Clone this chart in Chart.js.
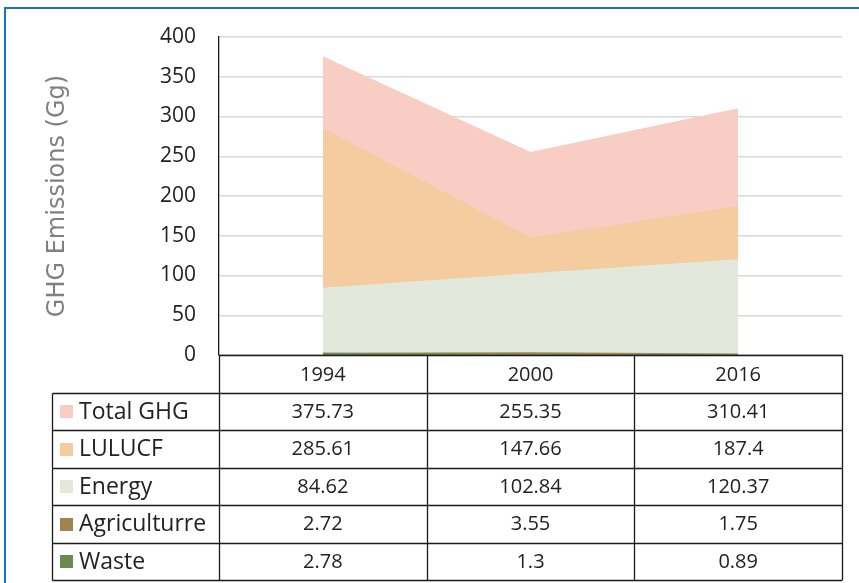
<!DOCTYPE html>
<html>
<head>
<meta charset="utf-8">
<script src="https://cdn.jsdelivr.net/npm/chart.js@4.4.0/dist/chart.umd.min.js"></script>
<style>
  html, body { margin: 0; background: #fff; }
  #wrap { position: relative; width: 859px; height: 583px; }
</style>
</head>
<body>
<div id="wrap"><canvas id="chart-ghg" width="859" height="583"></canvas></div>
<script>
// ── data ──
const years = ['1994', '2000', '2016'];
const seriesNames = ['Total GHG', 'LULUCF', 'Energy', 'Agriculturre', 'Waste'];
const totalGHG = [375.73, 255.35, 310.41];
const lulucf = [285.61, 147.66, 187.4];
const energy = [84.62, 102.84, 120.37];
const agriculture = [2.72, 3.55, 1.75];
const waste = [2.78, 1.3, 0.89];
const yTicks = [0, 50, 100, 150, 200, 250, 300, 350, 400];

const seriesData = [totalGHG, lulucf, energy, agriculture, waste];
const seriesColors = ['#f8cdc3', '#f4cca0', '#e2e9dc', '#a0834f', '#6b8a50'];

const FONT = 'Open Sans';

// data table under the plot, columns follow the x scale
const dataTable = {
  id: 'dataTable',
  afterDraw(chart) {
    const { ctx, chartArea: a, scales: { x } } = chart;
    const half = (x.getPixelForValue(1) - x.getPixelForValue(0)) / 2;
    const rowH = 37.5, top = a.bottom, left = 52.5;
    const bottom = top + rowH * (seriesNames.length + 1);
    const colEdges = [a.left];
    years.forEach((_, i) => colEdges.push(x.getPixelForValue(i) + half));

    ctx.save();
    ctx.strokeStyle = '#1a1a1a';
    ctx.lineWidth = 1.3;
    ctx.beginPath();
    // header row top
    ctx.moveTo(a.left, Math.round(top) + 0.5); ctx.lineTo(a.right, Math.round(top) + 0.5);
    for (let r = 1; r <= seriesNames.length + 1; r++) {
      const y = Math.round(top + r * rowH) + 0.5;
      ctx.moveTo(left, y); ctx.lineTo(a.right, y);
    }
    ctx.moveTo(left, Math.round(top + rowH) + 0.5); ctx.lineTo(left, Math.round(bottom) + 0.5);
    colEdges.forEach(cx => {
      const xx = Math.round(cx) + 0.5;
      ctx.moveTo(xx, top); ctx.lineTo(xx, Math.round(bottom) + 0.5);
    });
    ctx.stroke();

    ctx.fillStyle = '#222';
    ctx.font = `20px "${FONT}"`;
    ctx.textAlign = 'center';
    ctx.textBaseline = 'middle';
    years.forEach((yr, i) => ctx.fillText(yr, x.getPixelForValue(i), top + rowH / 2 + 2));
    seriesNames.forEach((name, r) => {
      const cy = top + (r + 1.5) * rowH + 1;
      seriesData[r].forEach((v, i) => ctx.fillText(String(v), x.getPixelForValue(i), cy));
      ctx.fillStyle = seriesColors[r];
      ctx.fillRect(60, Math.round(cy - 7), 13, 13);
      ctx.fillStyle = '#222';
      ctx.textAlign = 'left';
      ctx.font = `23px "${FONT}"`;
      ctx.fillText(name, 79, cy);
      ctx.font = `20px "${FONT}"`;
      ctx.textAlign = 'center';
    });

    // blue frame of the figure box
    ctx.strokeStyle = '#1f74c1';
    ctx.lineWidth = 2;
    ctx.beginPath();
    ctx.moveTo(5, 583); ctx.lineTo(5, 8); ctx.lineTo(859, 8);
    ctx.stroke();
    ctx.restore();
  }
};

new Chart(document.getElementById('chart-ghg'), {
  type: 'line',
  data: {
    labels: years,
    datasets: seriesNames.map((name, i) => ({
      label: name,
      data: seriesData[i],
      backgroundColor: seriesColors[i],
      borderColor: seriesColors[i],
      borderWidth: 0,
      pointRadius: 0,
      tension: 0,
      fill: 'origin',
      order: seriesNames.length - i,
    }))
  },
  options: {
    responsive: false,
    animation: false,
    layout: { padding: { top: 37, right: 17, bottom: 228, left: 0 } },
    plugins: { legend: { display: false }, tooltip: { enabled: false } },
    scales: {
      x: { type: 'category', offset: true, display: false },
      y: {
        min: 0, max: 400,
        afterFit: s => { s.width = 219; },
        afterBuildTicks: s => { s.ticks = yTicks.map(v => ({ value: v })); },
        grid: { color: '#d9d9d9', lineWidth: 1.5, drawTicks: false },
        border: { color: '#1a1a1a', width: 1.3 },
        ticks: { padding: 23, color: '#222', font: { family: FONT, size: 21 } },
        title: {
          display: true, text: 'GHG Emissions (Gg)', color: '#808080',
          font: { family: 'DejaVu Sans', size: 24 }, padding: { top: 43 }
        }
      }
    }
  },
  plugins: [dataTable]
});
</script>
</body>
</html>
